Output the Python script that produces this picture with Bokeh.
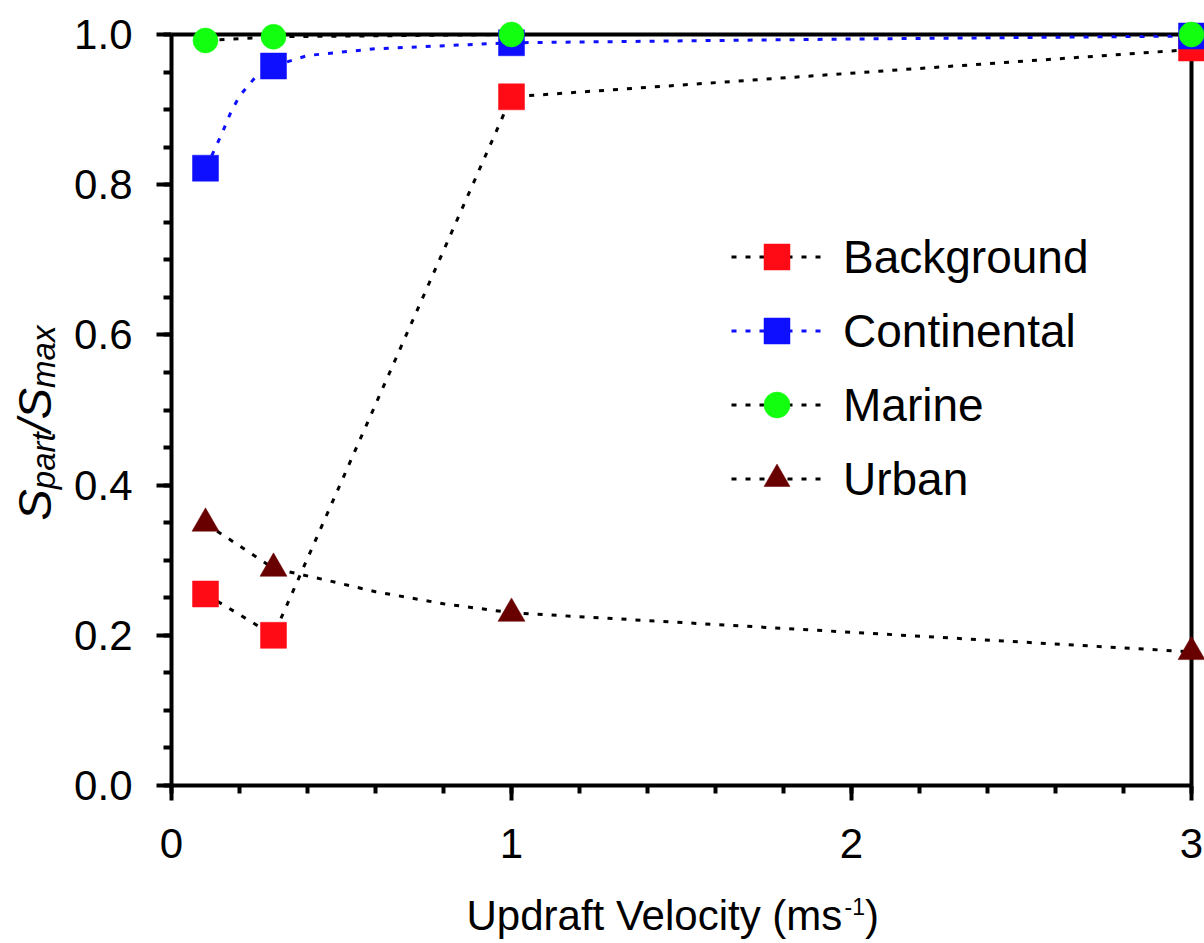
import math
from bokeh.plotting import figure
from bokeh.layouts import row, column
from bokeh.models import (Range1d, FixedTicker, PrintfTickFormatter, Legend, LegendItem)
from bokeh.core.properties import value
from bokeh.embed import file_html
from bokeh.resources import INLINE

# ---------------- data ----------------
velocity = [0.1, 0.3, 1.0, 3.0]
background = [0.255, 0.200, 0.917, 0.982]
continental = [0.822, 0.958, 0.989, 0.998]
marine = [0.992, 0.997, 1.000, 1.000]
urban = [0.349, 0.289, 0.229, 0.178]

# dotted curves
background_line_x = [0.1, 0.3, 1.0, 3.0]
background_line_y = [0.255, 0.200, 0.917, 0.980]
continental_line_x = [0.1, 0.125, 0.15, 0.175, 0.2, 0.25, 0.3, 0.4, 0.6, 1.0, 2.0, 3.0]
continental_line_y = [0.822, 0.845, 0.870, 0.897, 0.918, 0.945, 0.958, 0.972, 0.981, 0.989, 0.994, 0.998]
marine_line_x = [0.1, 0.3, 1.0, 3.0]
marine_line_y = [0.992, 0.997, 1.000, 1.000]
urban_line_x = [0.1, 0.3, 0.45, 0.6, 0.8, 1.0, 3.0]
urban_line_y = [0.349, 0.289, 0.274, 0.258, 0.242, 0.230, 0.178]

series_names = ["Background", "Continental", "Marine", "Urban"]
x_ticks = [0, 1, 2, 3]
y_ticks = [0.0, 0.2, 0.4, 0.6, 0.8, 1.0]
x_minor = [i * 0.2 for i in range(16)]
y_minor = [i * 0.05 for i in range(21)]
X_MAX, Y_MAX = 3.0, 1.0

# ---------------- layout ----------------
W, H = 1204, 943
TITLE_W = 68            # strip on the left holding the y title
TITLE_H = 60            # strip at the bottom holding the x title
MAIN_W, MAIN_H = W - TITLE_W, H - TITLE_H
FRAME_LEFT, FRAME_BOTTOM = 171, 785   # page pixels
LEFT = FRAME_LEFT - TITLE_W
TOP = 10
BOTTOM = MAIN_H - FRAME_BOTTOM
RIGHT = 0
PX_X, PX_Y = 340.0, 751.0   # pixels per unit
frame_w = MAIN_W - LEFT - RIGHT
frame_h = MAIN_H - TOP - BOTTOM

FONT = "Liberation Sans"
MID = 0.3465   # centre of the font box above the baseline, in em

p = figure(width=MAIN_W, height=MAIN_H, output_backend="svg", toolbar_location=None,
           x_range=Range1d(0, frame_w / PX_X), y_range=Range1d(0, frame_h / PX_Y),
           min_border_left=LEFT, min_border_right=RIGHT,
           min_border_top=TOP, min_border_bottom=BOTTOM)
p.outline_line_color = None
p.grid.visible = False
p.background_fill_color = "white"
p.border_fill_color = "white"

for ax, ticks, minor, fmt in ((p.xaxis[0], x_ticks, x_minor, "%d"),
                               (p.yaxis[0], y_ticks, y_minor, "%.1f")):
    ax.ticker = FixedTicker(ticks=ticks, minor_ticks=minor)
    ax.formatter = PrintfTickFormatter(format=fmt)
    ax.axis_line_width = 4
    ax.axis_line_color = "black"
    ax.major_tick_line_width = 4
    ax.minor_tick_line_width = 4
    ax.major_tick_line_color = "black"
    ax.minor_tick_line_color = "black"
    ax.major_tick_in = 0
    ax.major_tick_out = 15
    ax.minor_tick_in = 0
    ax.minor_tick_out = 8
    ax.major_label_text_font = FONT
    ax.major_label_text_font_size = "42px"
    ax.major_label_text_color = "black"
    ax.axis_label = None
p.xaxis[0].bounds = (0, X_MAX)
p.yaxis[0].bounds = (0, Y_MAX + 1e-6)
p.xaxis[0].major_label_standoff = 28
p.yaxis[0].major_label_standoff = 24

# top and right sides of the box
p.segment(x0=[0, X_MAX], y0=[Y_MAX, 0], x1=[X_MAX, X_MAX], y1=[Y_MAX, Y_MAX],
          line_color="black", line_width=4, line_cap="square")

DASH = "5 9"
RED, BLUE, GREEN, MAROON = "#ff0b16", "#0f0fff", "#12ff0f", "#690000"

bl = p.line(background_line_x, background_line_y, line_color="black", line_width=3, line_dash=DASH)
cl = p.line(continental_line_x, continental_line_y, line_color=BLUE, line_width=3, line_dash=DASH)
ml = p.line(marine_line_x, marine_line_y, line_color="black", line_width=3, line_dash=DASH)
ul = p.line(urban_line_x, urban_line_y, line_color="black", line_width=3, line_dash=DASH)

us = p.scatter(velocity, urban, marker="triangle", size=27, fill_color=MAROON, line_color=MAROON, line_width=0.5)
bs = p.scatter(velocity, background, marker="square", size=26, fill_color=RED, line_color=RED, line_width=0.5)
cs = p.scatter(velocity, continental, marker="square", size=26, fill_color=BLUE, line_color=BLUE, line_width=0.5)
ms = p.scatter(velocity, marine, marker="circle", size=25, fill_color=GREEN, line_color=GREEN, line_width=0.5)

legend = Legend(items=[
    LegendItem(label=series_names[0], renderers=[bl, bs]),
    LegendItem(label=series_names[1], renderers=[cl, cs]),
    LegendItem(label=series_names[2], renderers=[ml, ms]),
    LegendItem(label=series_names[3], renderers=[ul, us]),
], location=(560, 274), glyph_width=91, glyph_height=65, label_height=65,
    spacing=9, padding=0, margin=0, label_standoff=21,
    label_text_font=FONT, label_text_font_size="46px", label_text_color="black",
    border_line_color=None, background_fill_alpha=0)
p.add_layout(legend)


# ---------------- axis titles, in their own strips ----------------
def strip(w, h, x0, x1, y0, y1):
    f = figure(width=w, height=h, output_backend="svg", toolbar_location=None,
               x_range=Range1d(x0, x1), y_range=Range1d(y0, y1),
               x_axis_type=None, y_axis_type=None,
               min_border=0, min_border_left=0, min_border_right=0,
               min_border_top=0, min_border_bottom=0)
    f.outline_line_color = None
    f.grid.visible = False
    f.background_fill_color = "white"
    f.border_fill_color = "white"
    return f


def put(f, txt, x, y, size, style="normal", angle=0.0):
    f.text(x=[x], y=[y], text=[txt], text_font=value(FONT),
           text_font_size=value(f"{size}px"), text_font_style=style,
           text_color="black", angle=angle, text_align="left",
           text_baseline="middle")


# y title: S_part / S_max, reading upward (data = page pixels, y measured up from page bottom)
ytitle = strip(TITLE_W, H, 0, TITLE_W, 0, H)
MAIN, SUB = 47, 33
widths = {"S": 0.667, "/": 0.278, "part": 1.723, "max": 1.889}
page_y = 520.0            # start of the title (bottom end)
base_x = 50.0             # baseline of the large letters
for piece, size, dx in (("S", MAIN, 0), ("part", SUB, 4), ("/", MAIN, 0),
                        ("S", MAIN, 0), ("max", SUB, 4)):
    put(ytitle, piece, base_x + dx - MID * size, H - page_y, size, "italic", math.pi / 2)
    page_y -= widths[piece] * size

# x title: Updraft Velocity (ms^-1); the strip's frame lines up with the main frame
xtitle = strip(MAIN_W, TITLE_H, FRAME_LEFT, W, 0, TITLE_H)
XT, SUP = 42, 23
base = 930.0
sup_base = 914.0
page_x = 466.0
put(xtitle, "Updraft Velocity (ms", page_x, H - (base - MID * XT), XT)
page_x += 9.002 * XT
put(xtitle, "-1", page_x, H - (sup_base - MID * SUP), SUP)
page_x += 0.889 * SUP
put(xtitle, ")", page_x, H - (base - MID * XT), XT)

layout = row(ytitle, column(p, xtitle, spacing=0), spacing=0)
open("out.html", "w").write(file_html(layout, INLINE))
